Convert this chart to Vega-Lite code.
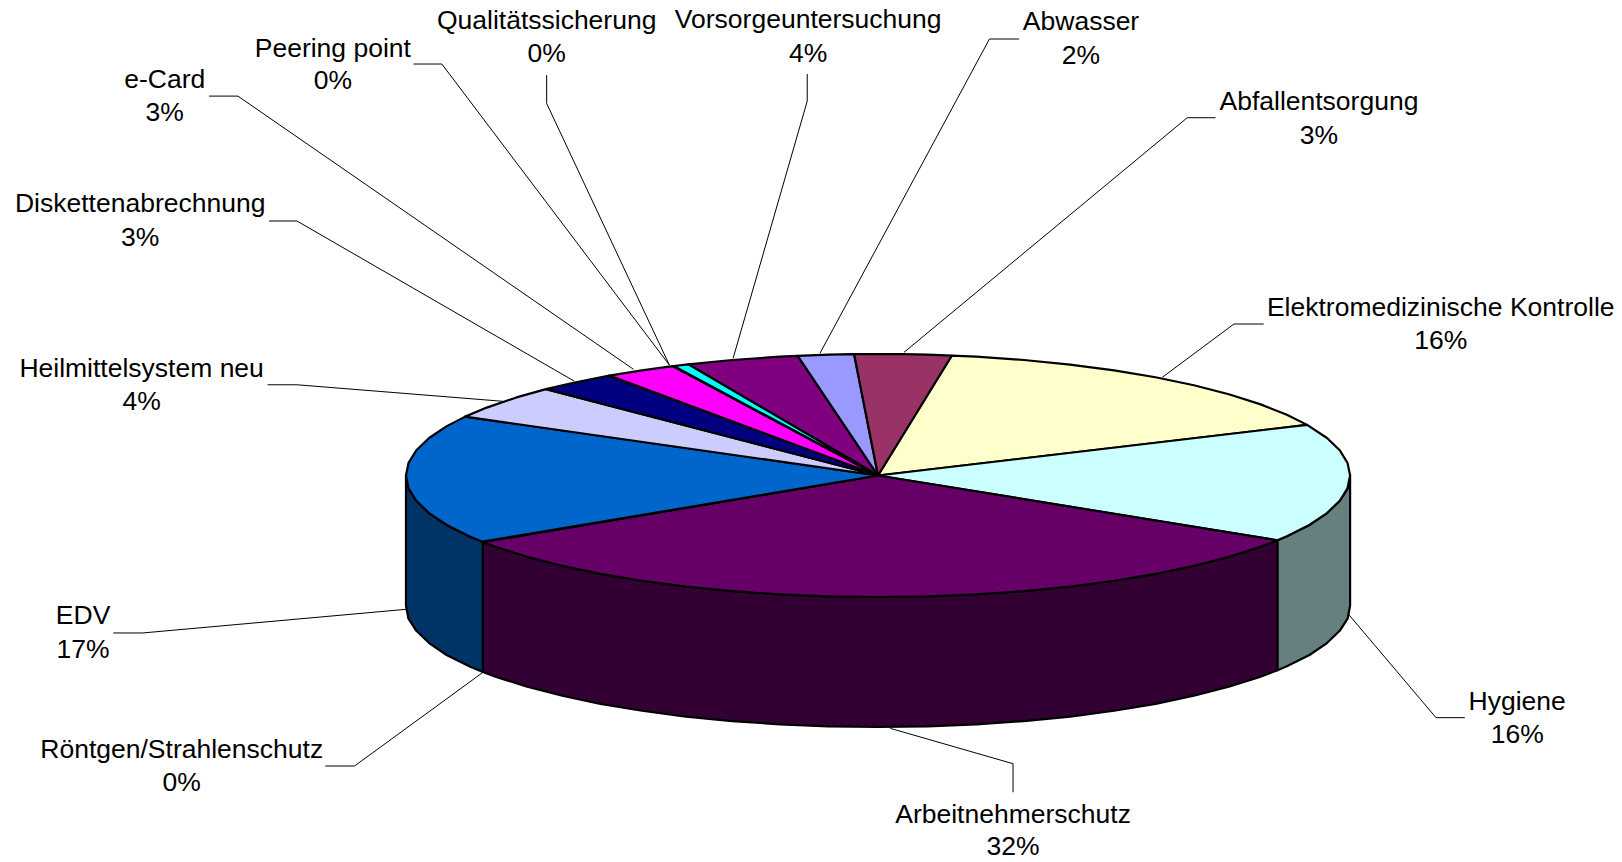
{
"$schema":"https://vega.github.io/schema/vega-lite/v6.json",
"width":1622,"height":862,
"autosize":{"type":"fit","contains":"padding"},
"padding":0,
"background":"white",
"view":{"stroke":null},
"datasets":{
"leaders":[
{"name":"Elektromedizinische Kontrolle","xs":[81.7,75.4,60.2],"ys":[124.7,124.7,80.8]},
{"name":"Abfallentsorgung","xs":[71.5,65.5,5.5],"ys":[294.5,294.5,101.4]},
{"name":"Abwasser","xs":[29.9,23.6,-12.3],"ys":[359.3,359.3,100.6]},
{"name":"Vorsorgeuntersuchung","xs":[-15,-15,-30.7],"ys":[330.5,308.2,96.5]},
{"name":"Qualitätssicherung","xs":[-70.2,-70.2,-44.2],"ys":[329.6,306.3,90.9]},
{"name":"Peering point","xs":[-98.4,-92.4,-44.2],"ys":[338.7,338.7,90.9]},
{"name":"e-Card","xs":[-141.7,-135.6,-51.8],"ys":[312.3,312.3,87.4]},
{"name":"Diskettenabrechnung","xs":[-129,-123.1,-64.4],"ys":[209.5,209.5,77.8]},
{"name":"Heilmittelsystem neu","xs":[-129.3,-123.1,-79.5],"ys":[74.7,74.7,61.1]},
{"name":"EDV","xs":[-162,-155.8,-99.9],"ys":[-129.6,-129.6,-110.1]},
{"name":"Röntgen/Strahlenschutz","xs":[-117.1,-110.9,-83.8],"ys":[-239.1,-239.1,-162.3]},
{"name":"Arbeitnehmerschutz","xs":[28.6,28.6,2.6],"ys":[-260.7,-237.2,-208.1]},
{"name":"Hygiene","xs":[124.3,118.2,99.8],"ys":[-199.3,-199.3,-114.8]}
],
"pie":[
{"piece":"Hygiene Seite","xs":[84.6,86.6,91.4,95.1,97.8,99.5,100,100,99.5,97.8,95.1,91.4,86.6,84.6,84.6],"ys":[-53.3,-50,-40.7,-30.9,-20.8,-10.5,0,-107,-117.5,-127.8,-137.9,-147.7,-157,-160.3,-53.3]},
{"piece":"EDV Seite","xs":[-100,-99.5,-97.8,-95.1,-91.4,-86.6,-83.7,-83.7,-86.6,-91.4,-95.1,-97.8,-99.5,-100,-100],"ys":[0,-10.5,-20.8,-30.9,-40.7,-50,-54.7,-161.7,-157,-147.7,-137.9,-127.8,-117.5,-107,0]},
{"piece":"Arbeitnehmerschutz Seite","xs":[-83.7,-80.9,-74.3,-66.9,-58.8,-50,-40.7,-30.9,-20.8,-10.5,0,10.5,20.8,30.9,40.7,50,58.8,66.9,74.3,80.9,84.6,84.6,80.9,74.3,66.9,58.8,50,40.7,30.9,20.8,10.5,0,-10.5,-20.8,-30.9,-40.7,-50,-58.8,-66.9,-74.3,-80.9,-83.7,-83.7],"ys":[-54.7,-58.8,-66.9,-74.3,-80.9,-86.6,-91.4,-95.1,-97.8,-99.5,-100,-99.5,-97.8,-95.1,-91.4,-86.6,-80.9,-74.3,-66.9,-58.8,-53.3,-160.3,-165.8,-173.9,-181.3,-187.9,-193.6,-198.4,-202.1,-204.8,-206.5,-207,-206.5,-204.8,-202.1,-198.4,-193.6,-187.9,-181.3,-173.9,-165.8,-161.7,-54.7]},
{"piece":"Elektromedizinische Kontrolle","xs":[0,90.9,86.6,80.9,74.31,66.91,58.78,50,40.67,30.9,20.79,15.64,0],"ys":[0,41.7,50,58.78,66.91,74.31,80.9,86.6,91.35,95.11,97.81,98.77,0]},
{"piece":"Hygiene","xs":[0,84.6,86.6,91.35,95.11,97.81,99.45,100,99.45,97.81,95.11,90.9,0],"ys":[0,-53.3,-50,-40.67,-30.9,-20.79,-10.45,0,10.45,20.79,30.9,41.7,0]},
{"piece":"Arbeitnehmerschutz","xs":[0,-83.7,-80.9,-74.31,-66.91,-58.78,-50,-40.67,-30.9,-20.79,-10.45,0,10.45,20.79,30.9,40.67,50,58.78,66.91,74.31,80.9,84.6,0],"ys":[0,-54.7,-58.78,-66.91,-74.31,-80.9,-86.6,-91.35,-95.11,-97.81,-99.45,-100,-99.45,-97.81,-95.11,-91.35,-86.6,-80.9,-74.31,-66.91,-58.78,-53.3,0]},
{"piece":"Röntgen/Strahlenschutz","xs":[0,-83.85,-83.7,0],"ys":[0,-54.45,-54.7,0]},
{"piece":"EDV","xs":[0,-87.46,-91.35,-95.11,-97.81,-99.45,-100,-99.45,-97.81,-95.11,-91.35,-86.6,-83.85,0],"ys":[0,48.48,40.67,30.9,20.79,10.45,0,-10.45,-20.79,-30.9,-40.67,-50,-54.45,0]},
{"piece":"Heilmittelsystem neu","xs":[0,-70.34,-76.6,-82.9,-87.46,0],"ys":[0,71.08,64.28,55.92,48.48,0]},
{"piece":"Diskettenabrechnung","xs":[0,-56.93,-64.28,-70.34,0],"ys":[0,82.21,76.6,71.08,0]},
{"piece":"e-Card","xs":[0,-43.52,-50,-56.93,0],"ys":[0,90.03,86.6,82.21,0]},
{"piece":"Peering point","xs":[0,-43.3,-43.52,0],"ys":[0,90.14,90.03,0]},
{"piece":"Vorsorgeuntersuchung","xs":[0,-17.02,-20.79,-30.9,-40.2,0],"ys":[0,98.54,97.81,95.11,91.56,0]},
{"piece":"Qualitätssicherung","xs":[0,-40.2,-43.3,0],"ys":[0,91.56,90.14,0]},
{"piece":"Abwasser","xs":[0,-5.06,-10.45,-17.02,0],"ys":[0,99.87,99.45,98.54,0]},
{"piece":"Abfallentsorgung","xs":[0,15.64,10.45,5.23,0,-5.06,0],"ys":[0,98.77,99.45,99.86,100,99.87,0]}
],
"labels":[
{"name":"Elektromedizinische Kontrolle","share":"16%","x":119.2,"y1":138.7,"y2":111.5},
{"name":"Abfallentsorgung","share":"3%","x":93.4,"y1":307.7,"y2":280.2},
{"name":"Abwasser","share":"2%","x":43,"y1":373.5,"y2":346.1},
{"name":"Vorsorgeuntersuchung","share":"4%","x":-14.8,"y1":375.7,"y2":347.7},
{"name":"Qualitätssicherung","share":"0%","x":-70.2,"y1":374.3,"y2":347.3},
{"name":"Peering point","share":"0%","x":-115.5,"y1":351.2,"y2":324.9},
{"name":"e-Card","share":"3%","x":-151.1,"y1":326.3,"y2":298.6},
{"name":"Diskettenabrechnung","share":"3%","x":-156.3,"y1":223.5,"y2":195.7},
{"name":"Heilmittelsystem neu","share":"4%","x":-156,"y1":88.2,"y2":60.7},
{"name":"EDV","share":"17%","x":-168.4,"y1":-115.4,"y2":-142.8},
{"name":"Röntgen/Strahlenschutz","share":"0%","x":-147.5,"y1":-225.1,"y2":-252.5},
{"name":"Arbeitnehmerschutz","share":"32%","x":28.6,"y1":-278.8,"y2":-305.5},
{"name":"Hygiene","share":"16%","x":135.4,"y1":-185.6,"y2":-213}
]
},
"layer":[
{"data":{"name":"leaders"},
 "transform":[{"flatten":["xs","ys"]},{"window":[{"op":"row_number","as":"seq"}]}],
 "mark":{"type":"line","stroke":"#000000","strokeWidth":1,"clip":false},
 "encoding":{
  "x":{"field":"xs","type":"quantitative","axis":null,"scale":{"domain":[-186.0,157.6],"nice":false,"zero":false}},
  "y":{"field":"ys","type":"quantitative","axis":null,"scale":{"domain":[-318.1,391.4],"nice":false,"zero":false}},
  "detail":{"field":"name"},
  "order":{"field":"seq","type":"quantitative"}}},
{"data":{"name":"pie"},
 "transform":[{"flatten":["xs","ys"]},{"window":[{"op":"row_number","as":"seq"}]}],
 "mark":{"type":"line","filled":true,"stroke":"#000000","strokeWidth":2.2,"strokeJoin":"round"},
 "encoding":{
  "x":{"field":"xs","type":"quantitative"},
  "y":{"field":"ys","type":"quantitative"},
  "fill":{"field":"piece","type":"nominal","legend":null,"scale":{
    "domain":["Hygiene Seite","EDV Seite","Arbeitnehmerschutz Seite","Elektromedizinische Kontrolle","Hygiene","Arbeitnehmerschutz","Röntgen/Strahlenschutz","EDV","Heilmittelsystem neu","Diskettenabrechnung","e-Card","Peering point","Qualitätssicherung","Vorsorgeuntersuchung","Abwasser","Abfallentsorgung"],
    "range":["#668080","#003366","#330033","#FFFFCC","#CCFFFF","#660066","#FF8080","#0066CC","#CCCCFF","#000080","#FF00FF","#FFFF00","#00FFFF","#800080","#9999FF","#993366"]}},
  "order":{"field":"seq","type":"quantitative"}}},
{"data":{"name":"labels"},
 "mark":{"type":"text","font":"Liberation Sans","fontSize":26.5,"align":"center","baseline":"middle","fill":"#000000","dy":0.5},
 "encoding":{
  "x":{"field":"x","type":"quantitative"},
  "y":{"field":"y1","type":"quantitative"},
  "text":{"field":"name"}}},
{"data":{"name":"labels"},
 "mark":{"type":"text","font":"Liberation Sans","fontSize":26.5,"align":"center","baseline":"middle","fill":"#000000","dy":0.5},
 "encoding":{
  "x":{"field":"x","type":"quantitative"},
  "y":{"field":"y2","type":"quantitative"},
  "text":{"field":"share"}}}
]
}
